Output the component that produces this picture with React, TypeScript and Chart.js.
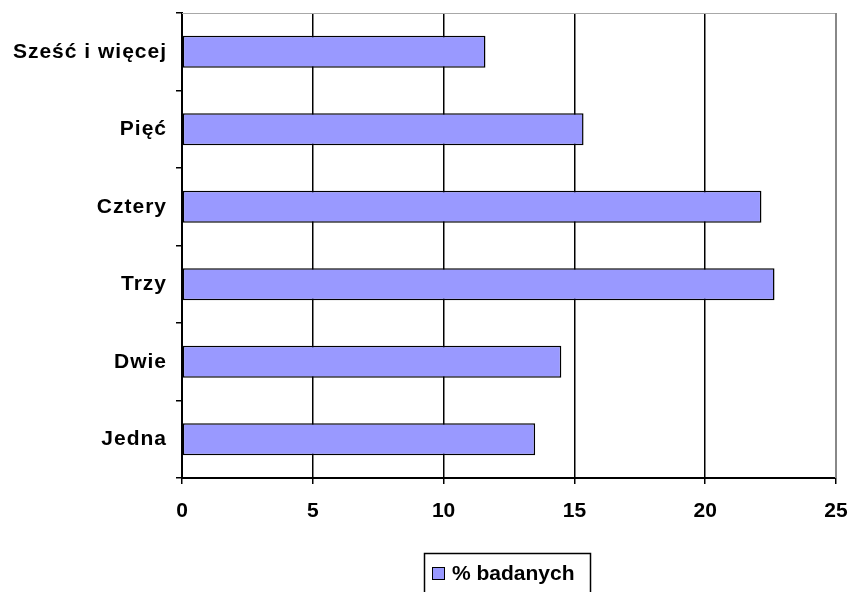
import React, { useEffect, useRef } from "react";
import { Chart, registerables } from "chart.js";

Chart.register(...registerables);

const categories = ["Sześć i więcej", "Pięć", "Cztery", "Trzy", "Dwie", "Jedna"];
const values = [11.6, 15.35, 22.15, 22.65, 14.5, 13.5];
const seriesLabel = "% badanych";
const xTicks = [0, 5, 10, 15, 20, 25];

const FONT = "'Liberation Sans', Arial, sans-serif";
const BAR_COLOR = "#9999ff";

const framePlugin = {
  id: "frame",
  beforeDraw(chart: any) {
    chart.ctx.letterSpacing = "1px";
  },
  afterDatasetsDraw(chart: any) {
    const ctx = chart.ctx;
    const a = chart.chartArea;
    ctx.letterSpacing = "0px";
    ctx.save();
    ctx.strokeStyle = "#a8a8a8";
    ctx.lineWidth = 1;
    ctx.beginPath();
    ctx.moveTo(a.left, a.top + 0.5);
    ctx.lineTo(a.right, a.top + 0.5);
    ctx.stroke();
    ctx.strokeStyle = "#888888";
    ctx.lineWidth = 2;
    ctx.beginPath();
    ctx.moveTo(a.right, a.top);
    ctx.lineTo(a.right, a.bottom);
    ctx.stroke();
    ctx.restore();
  },
  afterDraw(chart: any) {
    const ctx = chart.ctx;
    ctx.letterSpacing = "0px";
    ctx.save();
    ctx.strokeStyle = "#000";
    ctx.lineWidth = 1.5;
    ctx.strokeRect(424.5, 553.5, 166, 60);
    ctx.fillStyle = BAR_COLOR;
    ctx.fillRect(432, 567, 13, 13);
    ctx.lineWidth = 1;
    ctx.strokeRect(432.5, 567.5, 12, 12);
    ctx.fillStyle = "#000";
    ctx.font = `bold 21px ${FONT}`;
    ctx.textBaseline = "alphabetic";
    ctx.textAlign = "left";
    ctx.fillText(chart.data.datasets[0].label, 452, 580);
    ctx.restore();
  },
};

export default function App() {
  const ref = useRef<HTMLCanvasElement | null>(null);
  useEffect(() => {
    if (!ref.current) return;
    const chart = new Chart(ref.current, {
      type: "bar",
      data: {
        labels: categories,
        datasets: [
          {
            label: seriesLabel,
            data: values,
            backgroundColor: BAR_COLOR,
            borderColor: "#000",
            borderWidth: 1.5,
            borderSkipped: false,
            barPercentage: 0.41,
            categoryPercentage: 1,
          },
        ],
      },
      options: {
        indexAxis: "y",
        responsive: false,
        animation: false,
        layout: { padding: { top: 13, right: 16, left: 0, bottom: 0 } },
        plugins: {
          legend: { display: false },
          tooltip: { enabled: false },
        },
        scales: {
          x: {
            type: "linear",
            min: 0,
            max: 25,
            afterBuildTicks: (scale: any) => {
              scale.ticks = xTicks.map((v) => ({ value: v }));
            },
            afterFit: (scale: any) => {
              scale.height = 114;
              scale.paddingLeft = 0;
              scale.paddingRight = 0;
            },
            grid: {
              color: "#000",
              lineWidth: 1.5,
              tickLength: 6,
              drawTicks: true,
            },
            border: { color: "#000", width: 2 },
            ticks: {
              z: 1,
              color: "#000",
              padding: 15,
              maxRotation: 0,
              font: { family: FONT, size: 21, weight: "bold" },
            },
          },
          y: {
            type: "category",
            afterFit: (scale: any) => {
              scale.width = 182;
              scale.paddingTop = 0;
              scale.paddingBottom = 0;
            },
            grid: {
              drawOnChartArea: false,
              drawTicks: true,
              tickLength: 6,
              color: "#000",
              lineWidth: 1.5,
              offset: true,
            },
            border: { color: "#000", width: 2 },
            ticks: {
              color: "#000",
              padding: 9,
              font: { family: FONT, size: 21, weight: "bold" },
            },
          },
        },
      },
      plugins: [framePlugin],
    } as any);
    return () => chart.destroy();
  }, []);
  return (
    <div style={{ position: "absolute", left: 0, top: 0, width: 852, height: 592, background: "#fff" }}>
      <canvas ref={ref} width={852} height={592} style={{ display: "block" }} />
    </div>
  );
}
